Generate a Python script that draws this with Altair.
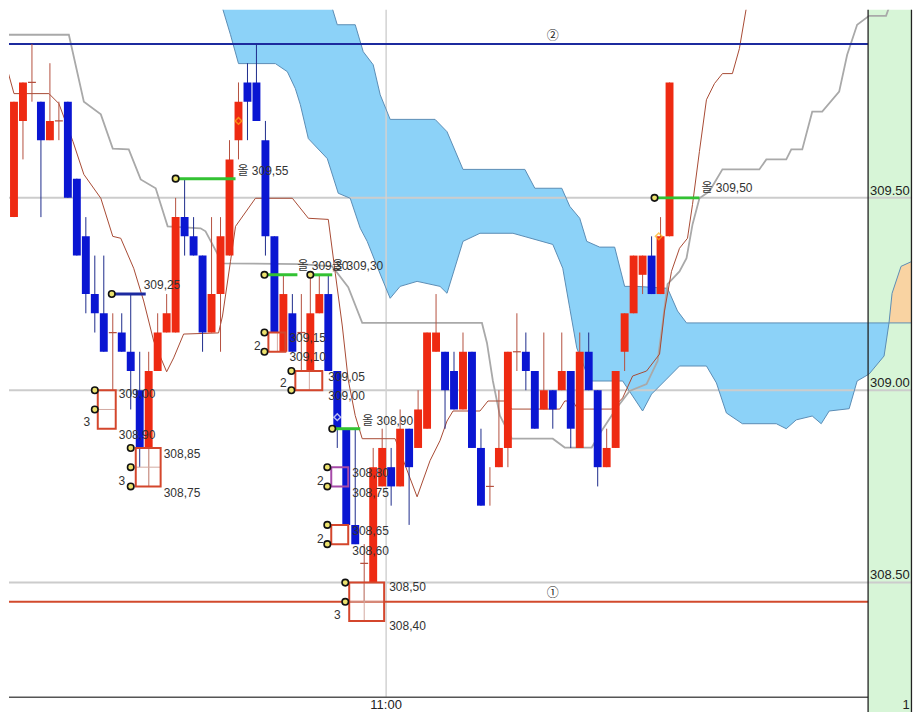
import altair as alt
import numpy as np
import pandas as pd

# ---------------- candle data (one bar per index) ----------------
opens = [309.70, 309.45, 309.70, 309.80, 309.75, 309.65, 309.70, 309.75, 309.55, 309.40,
         309.25, 309.20, 309.15, 309.15, 309.10, 309.00, 308.85, 309.05, 309.15, 309.15,
         309.45, 309.40, 309.35, 309.15, 309.25, 309.35, 309.65, 309.80, 309.80, 309.65,
         309.40, 309.10, 309.20, 309.15, 309.05, 309.20, 309.25, 309.05, 308.90, 308.65,
         308.55, 308.50, 308.75, 308.80, 308.75, 308.90, 308.85, 308.90, 309.10, 309.10,
         309.05, 308.95, 309.10, 308.85, 308.75, 308.80, 308.85, 309.10, 309.10, 309.05,
         308.95, 309.00, 309.00, 309.05, 308.85, 309.10, 309.00, 308.80, 308.85, 309.10,
         309.20, 309.30, 309.35, 309.25, 309.40]
highs = [309.80, 309.75, 309.80, 309.90, 309.75, 309.85, 309.75, 309.75, 309.55, 309.45,
         309.35, 309.35, 309.20, 309.20, 309.25, 309.10, 309.10, 309.20, 309.25, 309.50,
         309.55, 309.45, 309.35, 309.45, 309.45, 309.65, 309.80, 309.85, 309.90, 309.70,
         309.40, 309.30, 309.25, 309.25, 309.30, 309.30, 309.30, 309.05, 308.90, 308.90,
         308.60, 308.85, 308.90, 308.85, 308.95, 308.90, 309.00, 309.15, 309.25, 309.10,
         309.10, 309.15, 309.10, 308.90, 308.80, 309.00, 309.10, 309.20, 309.15, 309.05,
         309.15, 309.00, 309.15, 309.05, 309.15, 309.15, 309.00, 308.90, 309.05, 309.20,
         309.35, 309.35, 309.40, 309.45, 309.80]
lows = [309.45, 309.45, 309.60, 309.75, 309.45, 309.65, 309.65, 309.50, 309.35, 309.20,
        309.15, 309.10, 309.00, 309.10, 308.95, 308.80, 308.75, 309.05, 309.15, 309.15,
        309.35, 309.35, 309.10, 309.15, 309.10, 309.35, 309.60, 309.65, 309.70, 309.35,
        309.15, 309.10, 309.10, 309.05, 309.05, 309.20, 309.05, 308.85, 308.65, 308.60,
        308.45, 308.50, 308.75, 308.70, 308.75, 308.65, 308.85, 308.90, 309.10, 308.90,
        308.95, 308.95, 308.85, 308.70, 308.70, 308.80, 308.80, 309.05, 309.00, 308.90,
        308.95, 308.90, 309.00, 308.85, 308.85, 309.00, 308.75, 308.80, 308.85, 309.05,
        309.20, 309.25, 309.25, 309.25, 309.40]
closes = [309.50, 309.75, 309.80, 309.80, 309.65, 309.70, 309.70, 309.50, 309.35, 309.25,
          309.20, 309.10, 309.15, 309.10, 309.05, 308.85, 309.05, 309.15, 309.20, 309.45,
          309.40, 309.35, 309.15, 309.25, 309.40, 309.60, 309.75, 309.75, 309.70, 309.40,
          309.15, 309.25, 309.10, 309.15, 309.20, 309.25, 309.05, 308.90, 308.65, 308.60,
          308.55, 308.80, 308.85, 308.75, 308.90, 308.80, 308.95, 309.15, 309.15, 309.00,
          308.95, 309.10, 308.85, 308.70, 308.75, 308.85, 309.10, 309.10, 309.05, 308.90,
          309.00, 308.95, 309.05, 308.90, 309.10, 309.00, 308.80, 308.85, 309.05, 309.20,
          309.35, 309.35, 309.25, 309.40, 309.80]

# ---------------- indicator lines (vertices: bar index, price) ----------------
tenkan_i = [-0.44, 1.0, 4.89, 6.0, 7.56, 8.78, 10.67, 12.0, 12.89, 14.33, 15.44, 16.56, 18.0, 18.78,
            19.89, 23.78, 24.22, 25.11, 25.67, 27.89, 32.0, 33.78, 36.0, 36.78, 37.56, 38.22, 39.0,
            39.78, 43.44, 45.89, 47.33, 48.44, 49.22, 49.89, 52.89, 53.78, 55.67, 56.44, 61.78,
            62.33, 63.22, 63.78, 67.56, 68.78, 69.89, 71.44, 72.89, 73.44, 74.22, 75.11, 76.0,
            76.56, 77.33, 78.11, 79.0, 79.89, 81.0, 81.78, 82.67]
tenkan_p = [309.893, 309.771, 309.771, 309.745, 309.647, 309.561, 309.499, 309.400, 309.395,
            309.317, 309.232, 309.128, 309.048, 309.084, 309.146, 309.149, 309.193, 309.335,
            309.426, 309.499, 309.499, 309.447, 309.444, 309.304, 309.167, 309.027, 308.934,
            308.874, 308.874, 308.723, 308.817, 308.869, 308.920, 308.946, 308.946, 308.972,
            308.972, 308.951, 308.951, 308.972, 308.972, 308.951, 308.951, 308.980, 309.037,
            309.050, 309.094, 309.206, 309.309, 309.369, 309.395, 309.483, 309.621, 309.755,
            309.797, 309.823, 309.823, 309.888, 310.010]
kijun_i = [-0.44, 0.11, 7.11, 8.78, 10.67, 12.0, 13.78, 15.11, 16.78, 18.11, 21.78, 22.33, 24.22,
           32.89, 36.44, 38.22, 39.78, 53.11, 53.67, 54.33, 55.11, 56.44, 61.0, 62.33, 65.33,
           66.44, 68.11, 69.56, 71.44, 72.67, 73.22, 73.78, 75.11, 75.89, 76.56, 77.33, 78.44,
           79.89, 84.0, 84.78, 87.0, 87.56, 88.78, 89.89, 91.0, 92.89, 93.78, 94.89, 96.22,
           98.11, 98.67]
kijun_p = [309.991, 309.924, 309.924, 309.750, 309.717, 309.628, 309.626, 309.548, 309.525,
           309.426, 309.421, 309.413, 309.330, 309.328, 309.322, 309.268, 309.175, 309.175,
           309.123, 309.024, 308.934, 308.874, 308.874, 308.851, 308.851, 308.895, 308.954,
           308.998, 309.016, 309.076, 309.172, 309.276, 309.309, 309.343, 309.431, 309.499,
           309.517, 309.574, 309.574, 309.600, 309.600, 309.626, 309.626, 309.724, 309.724,
           309.776, 309.872, 309.950, 309.973, 309.973, 310.010]
spanA_i = [23.0, 24.0, 25.11, 26.0, 30.11, 31.44, 32.33, 32.89, 33.78, 35.89, 37.11, 38.44, 39.56,
           40.33, 41.78, 42.89, 44.0, 45.89, 48.44, 49.22, 51.0, 52.89, 56.56, 61.0, 62.11, 62.89,
           63.67, 65.11, 68.78, 71.0, 72.0, 73.67, 75.11, 78.11, 79.22, 80.33, 82.11, 85.89, 87.0,
           88.11, 89.89, 90.89, 91.78, 94.0, 94.89, 96.22, 97.89, 98.44, 98.78, 99.78, 101.0, 101.44]
spanA_p = [310.150, 310.010, 309.924, 309.849, 309.849, 309.828, 309.784, 309.742, 309.654,
           309.602, 309.512, 309.499, 309.421, 309.387, 309.302, 309.239, 309.270, 309.283,
           309.270, 309.252, 309.387, 309.408, 309.408, 309.379, 309.317, 309.213, 309.110,
           309.024, 309.024, 308.946, 308.990, 309.029, 309.063, 309.063, 309.019, 308.941,
           308.913, 308.913, 308.900, 308.923, 308.933, 308.913, 308.946, 308.952, 309.024,
           309.042, 309.089, 309.175, 309.252, 309.322, 309.335, 309.387]
spanB_i = [23.0, 33.0, 36.22, 37.0, 39.0, 39.89, 41.0, 41.78, 42.89, 47.89, 49.22, 51.0, 57.89,
           59.0, 62.0, 62.89, 64.0, 64.78, 66.22, 67.89, 69.0, 70.33, 73.78, 74.89, 75.89, 101.0,
           101.44]
spanB_p = [310.400, 310.150, 310.010, 309.950, 309.950, 309.880, 309.846, 309.768, 309.704,
           309.704, 309.672, 309.574, 309.574, 309.525, 309.525, 309.478, 309.447, 309.387,
           309.372, 309.372, 309.270, 309.270, 309.265, 309.206, 309.175, 309.175, 309.213]
cross_i = 98.44  # where the two spans cross

# ---------------- horizontal reference lines ----------------
level_p = [309.90, 308.45]
level_lbl = ["②", "①"]
level_lbl_i = [61.0, 61.0]
level_lbl_p = [309.921, 308.474]

# ---------------- annotation lines (start idx, end idx, price) ----------------
gl_start = [19.0, 28.89, 34.0, 36.44, 72.33]
gl_end = [25.67, 32.56, 36.44, 39.56, 77.33]
gl_price = [309.55, 309.30, 309.30, 308.90, 309.50]
bl_start, bl_end, bl_price = [11.89], [15.67], [309.25]

# annotation boxes
bx_x1 = [10.33, 14.56, 29.33, 32.33, 36.33, 36.33, 38.33]
bx_x2 = [12.33, 17.33, 31.22, 35.33, 38.22, 38.22, 42.22]
bx_top = [309.00, 308.85, 309.15, 309.05, 308.80, 308.65, 308.50]
bx_bot = [308.90, 308.75, 309.10, 309.00, 308.75, 308.60, 308.40]
bx_kind = ["r", "r", "r", "r", "p", "r", "r"]
ih_x1 = [10.33, 14.56, 38.33]
ih_x2 = [12.33, 17.33, 42.22]
ih_p = [308.95, 308.80, 308.45]
iv_i = [16.0, 30.33, 33.89, 40.0]
iv_top = [308.85, 309.15, 309.05, 308.50]
iv_bot = [308.75, 309.10, 309.00, 308.40]

mk_i = [11.89, 19.0, 28.89, 34.0, 36.44, 72.33, 10.0, 10.0, 14.0, 14.0, 14.0, 28.89, 28.89,
        31.89, 31.89, 35.89, 35.89, 35.89, 35.89, 37.89, 37.89]
mk_p = [309.25, 309.55, 309.30, 309.30, 308.90, 309.50, 309.00, 308.95, 308.85, 308.80, 308.75,
        309.15, 309.10, 309.05, 309.00, 308.80, 308.75, 308.65, 308.60, 308.50, 308.45]

ann_i = [25.89, 32.56, 36.44, 39.78, 77.56, 15.44, 12.67, 12.67, 17.67, 17.67, 31.67, 31.67,
         36.0, 36.0, 38.67, 38.67, 38.67, 38.67, 42.78, 42.78]
ann_p = [309.571, 309.322, 309.322, 308.920, 309.525, 309.273, 308.989, 308.884, 308.835, 308.733,
         309.136, 309.086, 309.034, 308.985, 308.786, 308.733, 308.635, 308.583, 308.488, 308.387]
ann_t = ["올 309,55", "올 309,30", "올 309,30", "올 308,90", "올 309,50", "309,25",
         "309,00", "308,90", "308,85", "308,75", "309,15", "309,10", "309,05", "309,00",
         "308,80", "308,75", "308,65", "308,60", "308,50", "308,40"]
cnt_i = [9.11, 13.0, 28.11, 31.0, 35.11, 35.11, 37.0]
cnt_p = [308.918, 308.765, 309.115, 309.019, 308.765, 308.614, 308.417]
cnt_t = ["3", "3", "2", "2", "2", "2", "3"]

dia_i = [26.0, 72.8]
dia_p = [309.70, 309.40]
wdia_i, wdia_p = [37.0], [308.93]

# right price axis + time axis
ax_lbl = ["309.50", "309.00", "308.50"]
ax_lbl_p = [309.519, 309.018, 308.520]
time_lbl, time_i = ["11:00"], [42.44]

# ---------------- layout ----------------
W, H = 905, 704
XD = [0.4444, 0.4444 + W / 9.0]
YD = [308.1631, 309.9889]
STRIP = 96.11
RIGHT_EDGE = XD[1] - 0.06
BOTTOM = 308.202

xs = alt.Scale(domain=XD, nice=False, zero=False)
ys = alt.Scale(domain=YD, nice=False, zero=False)


def ex(f):
    return alt.X(f, type="quantitative", scale=xs, axis=None)


def ey(f):
    return alt.Y(f, type="quantitative", scale=ys, axis=None)


RED, BLUE = "#ee2a12", "#0a16d2"
FONT = "Liberation Sans, Noto Sans CJK KR"
layers = []

# green price strip
strip_df = pd.DataFrame({"a": [STRIP], "b": [XD[1]], "y0": [YD[0]], "y1": [YD[1]]})
layers.append(alt.Chart(strip_df).mark_rect(color="#d7f5d7").encode(
    x=ex("a"), x2="b:Q", y=ey("y0"), y2="y1:Q"))

# cloud
grid = np.array(sorted(set(spanA_i) | set(spanB_i)))
ga = np.interp(grid, spanA_i, spanA_p)
gb = np.interp(grid, spanB_i, spanB_p)
cloud = pd.DataFrame({"i": grid, "a": ga, "b": gb})
blue_c = cloud[cloud.i <= cross_i]
org_c = cloud[cloud.i >= cross_i]
layers.append(alt.Chart(blue_c).mark_area(color="#8cd2f8", opacity=1, clip=True).encode(
    x=ex("i"), y=ey("a"), y2="b:Q"))
layers.append(alt.Chart(org_c).mark_area(color="#f9d3a2", opacity=1, clip=True).encode(
    x=ex("i"), y=ey("b"), y2="a:Q"))

# grid lines
layers.append(alt.Chart(pd.DataFrame({"p": [309.5, 309.0, 308.5]})).mark_rule(
    color="#cccccc", strokeWidth=2).encode(y=ey("p")))
layers.append(alt.Chart(pd.DataFrame({"i": time_i, "y0": [BOTTOM], "y1": [YD[1]]})).mark_rule(
    color="#d2d2d2", strokeWidth=1.5).encode(x=ex("i"), y=ey("y0"), y2="y1:Q"))

# cloud edges
for si, sp in ((spanA_i, spanA_p), (spanB_i, spanB_p)):
    layers.append(alt.Chart(pd.DataFrame({"i": si, "p": sp})).mark_line(
        color="#5b8db5", strokeWidth=1, clip=True).encode(x=ex("i"), y=ey("p")))

# indicator lines
layers.append(alt.Chart(pd.DataFrame({"i": kijun_i, "p": kijun_p})).mark_line(
    color="#a9a9a9", strokeWidth=1.8, clip=True).encode(x=ex("i"), y=ey("p")))
layers.append(alt.Chart(pd.DataFrame({"i": tenkan_i, "p": tenkan_p})).mark_line(
    color="#a84a34", strokeWidth=1, clip=True).encode(x=ex("i"), y=ey("p")))

# level lines 2 (blue) and 1 (red)
lv = pd.DataFrame({"p": level_p, "a": [XD[0]] * 2, "b": [STRIP] * 2, "k": ["b", "r"]})
layers.append(alt.Chart(lv[lv.k == "b"]).mark_rule(color="#1c2a9e", strokeWidth=2).encode(
    x=ex("a"), x2="b:Q", y=ey("p")))
layers.append(alt.Chart(lv[lv.k == "r"]).mark_rule(color="#d24a2c", strokeWidth=2).encode(
    x=ex("a"), x2="b:Q", y=ey("p")))
layers.append(alt.Chart(pd.DataFrame({"i": level_lbl_i, "p": level_lbl_p, "t": level_lbl})).mark_text(
    font="Noto Sans CJK KR", fontSize=12, color="#222").encode(x=ex("i"), y=ey("p"), text="t:N"))

# candles
cdf = pd.DataFrame({"i": range(len(opens)), "o": opens, "h": highs, "l": lows, "c": closes})
cdf["lo"] = cdf[["o", "c"]].min(axis=1)
cdf["hi"] = cdf[["o", "c"]].max(axis=1)
up = cdf[cdf.c > cdf.o]
dn = cdf[cdf.c < cdf.o]
dj = cdf[cdf.c == cdf.o]
for d, wc in ((up, "#b5503f"), (dn, "#1e2c8c"), (dj, "#b5503f")):
    layers.append(alt.Chart(d).mark_rule(color=wc, strokeWidth=1, clip=True).encode(
        x=ex("i"), y=ey("l"), y2="h:Q"))
for d, bc in ((up, RED), (dn, BLUE)):
    layers.append(alt.Chart(d).transform_calculate(
        xa="datum.i - 0.44", xb="datum.i + 0.44").mark_rect(color=bc, clip=True).encode(
        x=ex("xa"), x2="xb:Q", y=ey("lo"), y2="hi:Q"))
layers.append(alt.Chart(dj).transform_calculate(
    xa="datum.i - 0.44", xb="datum.i + 0.44").mark_rule(color="#b5503f", strokeWidth=1.2, clip=True).encode(
    x=ex("xa"), x2="xb:Q", y=ey("o")))

# axis frame lines
layers.append(alt.Chart(pd.DataFrame({"a": [XD[0]], "b": [STRIP], "p": [BOTTOM]})).mark_rule(
    color="#555555", strokeWidth=1.5).encode(x=ex("a"), x2="b:Q", y=ey("p")))
layers.append(alt.Chart(pd.DataFrame({"i": [STRIP, RIGHT_EDGE]})).mark_rule(
    color="#222222", strokeWidth=1.3).encode(x=ex("i")))

# annotation boxes
bx = pd.DataFrame({"x1": bx_x1, "x2": bx_x2, "t": bx_top, "b": bx_bot, "k": bx_kind})
layers.append(alt.Chart(pd.DataFrame({"x1": ih_x1, "x2": ih_x2, "p": ih_p})).mark_rule(
    color="#d3aaa2", strokeWidth=1).encode(x=ex("x1"), x2="x2:Q", y=ey("p")))
layers.append(alt.Chart(pd.DataFrame({"i": iv_i, "t": iv_top, "b": iv_bot})).mark_rule(
    color="#d3aaa2", strokeWidth=1).encode(x=ex("i"), y=ey("b"), y2="t:Q"))
layers.append(alt.Chart(bx[bx.k == "r"]).mark_rect(filled=False, stroke="#d4462c", strokeWidth=2).encode(
    x=ex("x1"), x2="x2:Q", y=ey("b"), y2="t:Q"))
layers.append(alt.Chart(bx[bx.k == "p"]).mark_rect(filled=False, stroke="#a64aa8", strokeWidth=2).encode(
    x=ex("x1"), x2="x2:Q", y=ey("b"), y2="t:Q"))

# green and blue alert lines
layers.append(alt.Chart(pd.DataFrame({"a": gl_start, "b": gl_end, "p": gl_price})).mark_rule(
    color="#33c233", strokeWidth=3).encode(x=ex("a"), x2="b:Q", y=ey("p")))
layers.append(alt.Chart(pd.DataFrame({"a": bl_start, "b": bl_end, "p": bl_price})).mark_rule(
    color="#1c2aa0", strokeWidth=3).encode(x=ex("a"), x2="b:Q", y=ey("p")))

# diamonds
layers.append(alt.Chart(pd.DataFrame({"i": dia_i, "p": dia_p})).mark_point(
    shape="diamond", filled=False, color="#ffb31a", strokeWidth=1.5, size=45).encode(
    x=ex("i"), y=ey("p")))
layers.append(alt.Chart(pd.DataFrame({"i": wdia_i, "p": wdia_p})).mark_point(
    shape="diamond", filled=False, color="#ffffff", strokeWidth=1.5, size=45).encode(
    x=ex("i"), y=ey("p")))

# yellow markers
layers.append(alt.Chart(pd.DataFrame({"i": mk_i, "p": mk_p})).mark_point(
    shape="circle", filled=True, fill="#ece26e", stroke="#111111", strokeWidth=1.6,
    size=42, opacity=1).encode(x=ex("i"), y=ey("p")))

# texts
layers.append(alt.Chart(pd.DataFrame({"i": ann_i, "p": ann_p, "t": ann_t})).mark_text(
    align="left", baseline="middle", font=FONT, fontSize=12, color="#333333").encode(
    x=ex("i"), y=ey("p"), text="t:N"))
layers.append(alt.Chart(pd.DataFrame({"i": cnt_i, "p": cnt_p, "t": cnt_t})).mark_text(
    align="center", baseline="middle", font=FONT, fontSize=12, color="#333333").encode(
    x=ex("i"), y=ey("p"), text="t:N"))
layers.append(alt.Chart(pd.DataFrame({"i": [96.33] * 3, "p": ax_lbl_p, "t": ax_lbl})).mark_text(
    align="left", baseline="middle", font=FONT, fontSize=13, color="#222222").encode(
    x=ex("i"), y=ey("p"), text="t:N"))
layers.append(alt.Chart(pd.DataFrame({"i": time_i, "p": [308.181], "t": time_lbl})).mark_text(
    align="center", baseline="middle", font=FONT, fontSize=13, color="#222222").encode(
    x=ex("i"), y=ey("p"), text="t:N"))
layers.append(alt.Chart(pd.DataFrame({"i": [XD[1] - 0.25], "p": [308.181], "t": ["1"]})).mark_text(
    align="right", baseline="middle", font=FONT, fontSize=13, color="#222222").encode(
    x=ex("i"), y=ey("p"), text="t:N"))

chart = alt.layer(*layers).properties(
    width=W, height=H, padding=0, background="white"
).configure_view(stroke=None)

chart.save("out.html", embed_options={"renderer": "svg", "actions": False})
